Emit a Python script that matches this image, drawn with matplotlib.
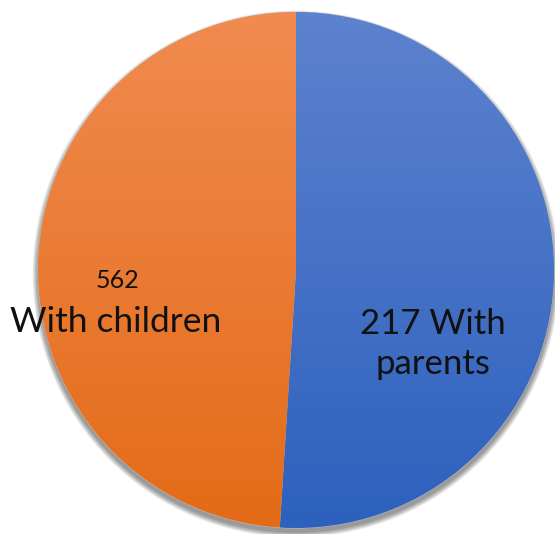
import numpy as np
import matplotlib
matplotlib.use('Agg')
import matplotlib.pyplot as plt
from matplotlib.colors import LinearSegmentedColormap
from matplotlib.patches import Circle

# data
categories = ['With parents', 'With children']
counts = [217, 562]
shares = [51.0, 49.0]          # slice sizes as drawn in the picture
top_colors = ['#5D82CE', '#F18B50']
bottom_colors = ['#2D61BD', '#E36B17']

plt.rcParams['font.family'] = ['Lato', 'DejaVu Sans']

fig = plt.figure(figsize=(5.55, 5.34), dpi=100)
ax = fig.add_axes([0, 0, 1, 1])
ax.set_xlim(0, 555)
ax.set_ylim(0, 534)
ax.set_aspect('equal')
ax.axis('off')

cx, cy, r = 296, 264, 258

# soft drop shadow
for k in range(8):
    ax.add_patch(Circle((cx, cy - 4), r + 0.5 + k * 0.7, color='black',
                        alpha=0.06, lw=0, zorder=0))

wedges, _ = ax.pie(shares, center=(cx, cy), radius=r, startangle=90,
                   counterclock=False, colors=bottom_colors,
                   wedgeprops=dict(linewidth=0.6, edgecolor='#c8c8c8'))
ax.set_xlim(0, 555)
ax.set_ylim(0, 534)

# vertical gradient in each slice
grad = np.linspace(0, 1, 256).reshape(-1, 1)
for w, c0, c1 in zip(wedges, top_colors, bottom_colors):
    cmap = LinearSegmentedColormap.from_list('g', [c1, c0])
    im = ax.imshow(grad, cmap=cmap, aspect='auto', origin='lower',
                   extent=(cx - r, cx + r, cy - r, cy + r), zorder=2)
    im.set_clip_path(w)

# labels
ax.text(117, 534 - 280, str(counts[1]), ha='center', va='center',
        fontsize=18, color='#111111', zorder=5)
ax.text(116, 534 - 322, categories[1], ha='center', va='center',
        fontsize=25.5, color='#111111', zorder=5)
ax.text(433, 534 - 344, f'{counts[0]} With\nparents', ha='center', va='center',
        fontsize=25, color='#111111', linespacing=1.3, zorder=5)

fig.savefig('out.png', dpi=100)
